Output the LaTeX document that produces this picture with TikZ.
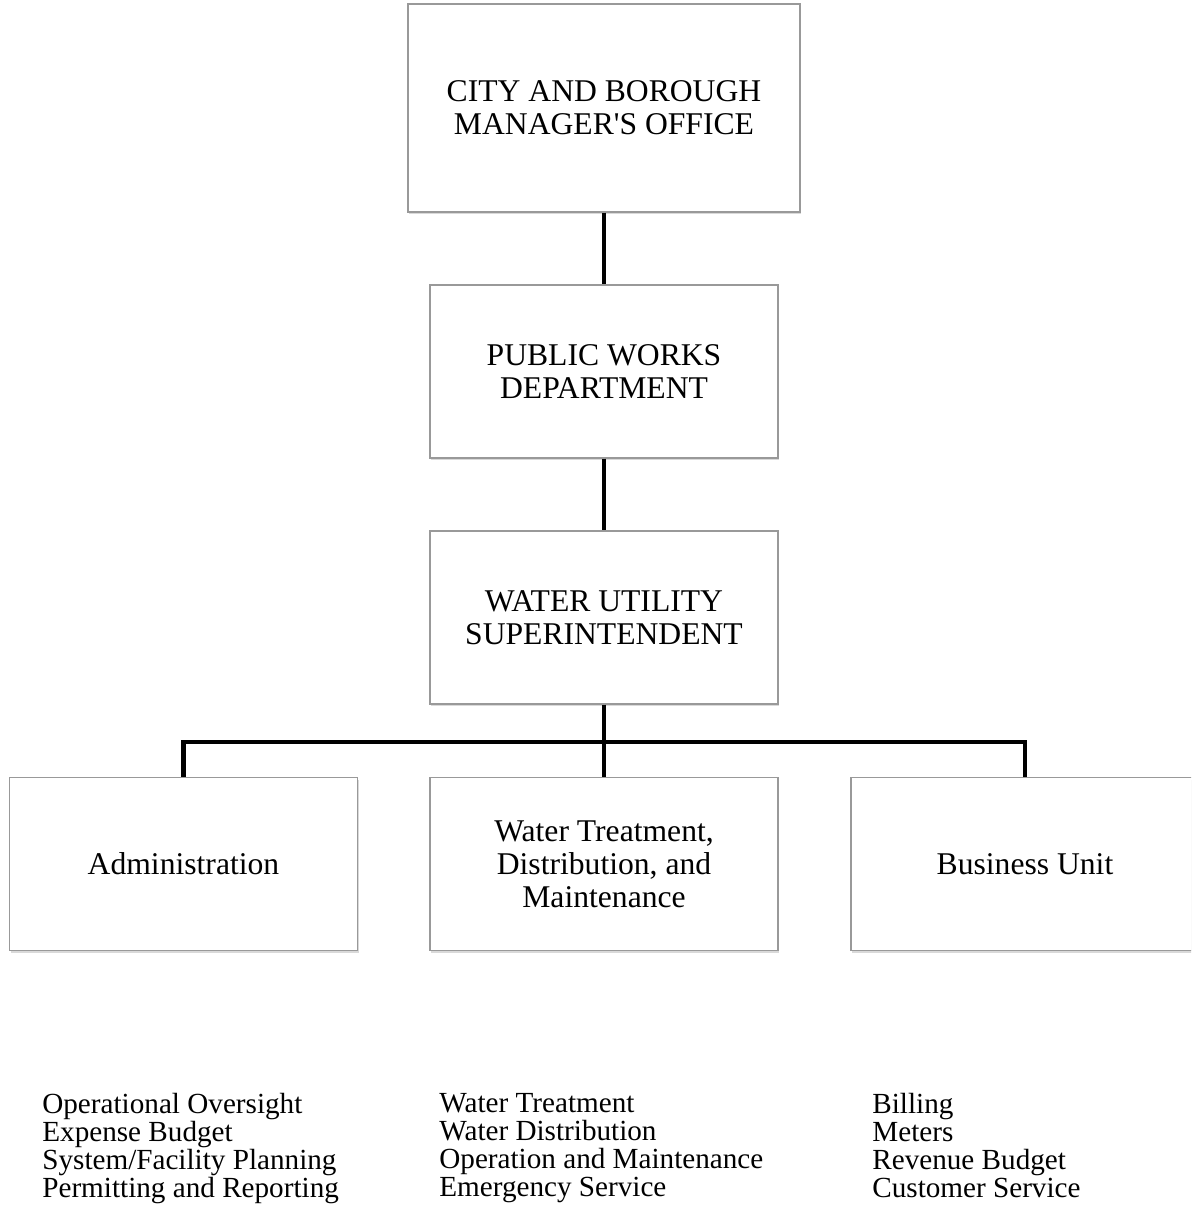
\documentclass[tikz,border=0pt]{standalone}
\usepackage{fontspec}
\setmainfont{Liberation Serif}
\usepackage{tikz}
\usetikzlibrary{positioning}
\usetikzlibrary{shadows}

\begin{document}
\begin{tikzpicture} [
                unit/.style = {draw=black!40, line width=0.6pt, fill=white, align=center,
                    font=\fontsize{18}{18.8}\selectfont,
                    drop shadow={opacity=0.3, shadow xshift=0.7pt, shadow yshift=-1.4pt}},
                office/.style = {unit, minimum width=7.84cm, minimum height=4.16cm},
                section/.style = {unit, minimum width=6.96cm, minimum height=3.46cm},
                link/.style = {line width=2.8pt},
                duties/.style = {anchor=north west, inner sep=0pt, align=left,
                    font=\fontsize{16.6}{15.9}\selectfont}
            ]
            \clip (0,0) rectangle (23.82,-24.4);
            \useasboundingbox (0,0) rectangle (23.82,-24.4);
            \node (mgr) at (12.08,-2.16) [office] {CITY AND BOROUGH\\MANAGER\textquotesingle S OFFICE};
            \node (pw) at (12.08,-7.43) [section] {PUBLIC WORKS\\DEPARTMENT};
            \node (wus) at (12.08,-12.35) [section] {WATER UTILITY\\SUPERINTENDENT};
            \node (adm) at (3.67,-17.28) [section] {Administration};
            \node (wtd) at (12.08,-17.28) [section] {Water Treatment,\\Distribution, and\\Maintenance};
            \node (bus) at (20.50,-17.28) [section] {Business Unit};
            \coordinate (bar) at (12.08,-14.84);
            \draw [link] (mgr) -- (pw);
            \draw [link] (pw) -- (wus);
            \draw [link] (wus) -- (wtd);
            \draw [link] (adm.north) -- (adm.north |- bar) -- (bus.north |- bar) -- (bus.north);
            % what each unit looks after
            \node (admlist) at (0.84,-21.86) [duties] {Operational Oversight\\Expense Budget\\System/Facility Planning\\Permitting and Reporting};
            \node (wtdlist) at (8.78,-21.86) [duties] {Water Treatment\\Water Distribution\\Operation and Maintenance\\Emergency Service};
            \node (buslist) at (17.44,-21.86) [duties] {Billing\\Meters\\Revenue Budget\\Customer Service};
        \end{tikzpicture}
\end{document}
